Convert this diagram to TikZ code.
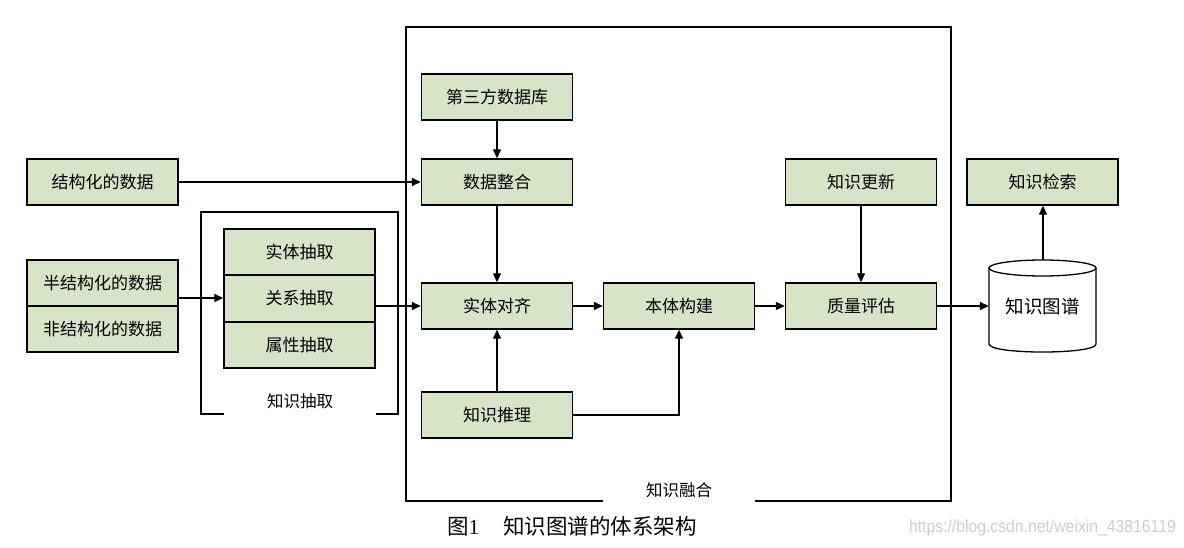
\documentclass[tikz,border=0pt]{standalone}
\usepackage{fontspec}
\setmainfont{Liberation Serif}
\setsansfont{Liberation Sans}
\newfontfamily\cjk{Noto Sans CJK SC}
\usetikzlibrary{arrows.meta}
\definecolor{boxfill}{RGB}{216,228,200}
\definecolor{wmgray}{RGB}{205,205,205}
\begin{document}
\begin{tikzpicture}[x=1pt,y=-1pt,
 box/.style={draw=black, fill=boxfill, line width=1.4pt, minimum width=151pt, minimum height=46pt, inner sep=0pt, font=\cjk\fontsize{17}{20}\selectfont},
 arr/.style={line width=1.3pt, -{Triangle[length=9pt,width=8pt]}},
 frame/.style={line width=1.3pt},
 lbl/.style={font=\cjk\fontsize{16.5}{18}\selectfont, inner sep=0pt}]
\useasboundingbox (0,0) rectangle (1184,548);
% frames
\draw[frame] (603,501) -- (406,501) -- (406,27) -- (951,27) -- (951,501) -- (755,501);
\node[lbl] (fusionlbl) at (679,490) {知识融合};
\draw[frame] (224,414) -- (201,414) -- (201,212) -- (398,212) -- (398,414) -- (376,414);
\node[lbl] (extrlbl) at (300,401) {知识抽取};
% boxes
\node[box] (third) at (497,97) {第三方数据库};
\node[box] (integ) at (497,182) {数据整合};
\node[box] (align) at (497,306) {实体对齐};
\node[box] (reason) at (497,415) {知识推理};
\node[box] (onto) at (679,306) {本体构建};
\node[box] (update) at (861,182) {知识更新};
\node[box] (quality) at (861,306) {质量评估};
\node[box] (retr) at (1042.5,182) {知识检索};
\node[box] (struct) at (102.5,182) {结构化的数据};
\node[box] (semi) at (102.5,283) {半结构化的数据};
\node[box] (non) at (102.5,329) {非结构化的数据};
\node[box] (ent) at (299.5,252) {实体抽取};
\node[box] (rel) at (299.5,298.5) {关系抽取};
\node[box] (attr) at (299.5,345) {属性抽取};
% cylinder
\draw[line width=1.3pt, fill=white] (989,268) -- (989,344) .. controls (989,354.7) and (1096,354.7) .. (1096,344) -- (1096,268);
\draw[line width=1.3pt, fill=white] (1042.5,268) ellipse [x radius=53.5, y radius=8];
\node[inner sep=0pt, minimum width=107pt, minimum height=92pt, font=\cjk\fontsize{18.5}{22}\selectfont] (kg) at (1042.5,306) {知识图谱};
% connectors
\draw[arr] (struct) -- (integ);
\draw[arr] (third) -- (integ);
\draw[arr] (integ) -- (align);
\draw[arr] (reason) -- (align);
\draw[arr] (reason.east) -| (onto.south);
\draw[arr] (align) -- (onto);
\draw[arr] (onto) -- (quality);
\draw[arr] (update) -- (quality);
\draw[arr] (quality) -- (kg);
\draw[arr] ([xshift=0.5pt]kg.north) -- ([xshift=0.5pt]retr.south);
\draw[arr] ([yshift=0.5pt]semi.east |- rel.west) -- ([yshift=0.5pt]rel.west);
\draw[arr] (rel.east |- align.west) -- (align.west);
% caption
\node[inner sep=0pt, anchor=west, font=\fontsize{21.5}{25}\selectfont] (cap) at (447,526) {{\cjk 图}1\hspace{24pt}{\cjk 知识图谱的体系架构}};
\node[inner sep=0pt, anchor=east, text=wmgray, font=\sffamily\fontsize{17.5}{20}\selectfont] (wm) at (1176,528) {\scalebox{0.9}[1]{https://blog.csdn.net/weixin\_43816119}};
\end{tikzpicture}
\end{document}
